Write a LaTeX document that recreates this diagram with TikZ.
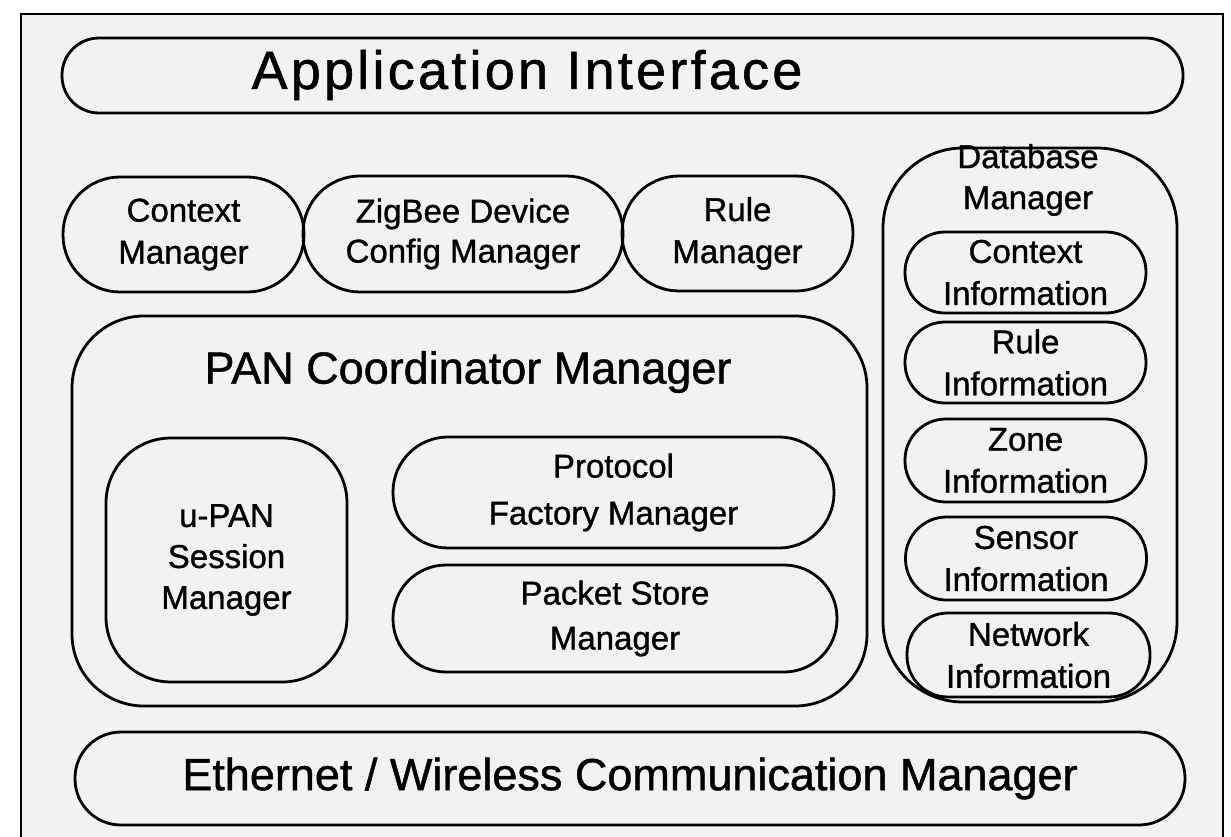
\documentclass[tikz,border=0pt]{standalone}
\usepackage{fontspec}
\setmainfont{Liberation Sans}[FakeBold=1]
\begin{document}
\begin{tikzpicture}[x=1pt,y=-1pt,
  frame/.style={draw=black,line width=2.8pt,fill=black!5},
  box/.style={draw=black,line width=2.8pt,inner sep=0pt,align=center,
    font=\fontsize{33}{42}\selectfont},
  bigtxt/.style={inner sep=0pt,font=\fontsize{45}{54}\selectfont},
  midtxt/.style={inner sep=0pt,align=center,font=\fontsize{33}{42}\selectfont}]
\useasboundingbox (0,0) rectangle (1231,836);
\fill[white] (0,0) rectangle (1231,836);
\draw[frame] (21,14) rectangle (1223,860);
% Application interface
\node[box,rounded corners=37pt,minimum width=1121pt,minimum height=75pt] (app) at (622.5,75.5) {};
\node[bigtxt,font=\fontsize{54}{60}\selectfont\addfontfeatures{LetterSpace=6}] (apptxt) at (527,75) {Application Interface};
% top managers
\node[box,rounded corners=57pt,minimum width=241pt,minimum height=115pt] (cm) at (183.5,234.5) {Context\\Manager};
\node[box,rounded corners=57pt,minimum width=320pt,minimum height=116pt,font=\fontsize{33}{40}\selectfont] (zb) at (463,234) {ZigBee Device\\Config Manager};
\node[box,rounded corners=57pt,minimum width=231pt,minimum height=115pt] (rm) at (737.5,233.5) {Rule\\Manager};
% database manager
\node[box,rounded corners=80pt,minimum width=294pt,minimum height=554pt] (db) at (1030,425) {};
\node[midtxt,font=\fontsize{33}{41}\selectfont] (dbtxt) at (1028,180) {Database\\Manager};
\node[box,rounded corners=40pt,minimum width=241pt,minimum height=81pt] (ci) at (1025.5,272.5) {Context\\Information};
\node[box,rounded corners=40pt,minimum width=241pt,minimum height=81pt] (ri) at (1025.5,362.5) {Rule\\Information};
\node[box,rounded corners=41pt,minimum width=241pt,minimum height=83pt] (zi) at (1025.5,460.5) {Zone\\Information};
\node[box,rounded corners=41pt,minimum width=241pt,minimum height=83pt] (si) at (1026,558.5) {Sensor\\Information};
\node[box,rounded corners=41pt,minimum width=243pt,minimum height=84pt] (ni) at (1028.5,655) {Network\\Information};
% PAN coordinator manager
\node[box,rounded corners=72pt,minimum width=795pt,minimum height=390pt] (pan) at (469.5,511) {};
\node[bigtxt] (pantxt) at (468,372) {PAN Coordinator Manager};
\node[box,rounded corners=65pt,minimum width=241pt,minimum height=244pt,font=\fontsize{33}{41}\selectfont] (up) at (226.5,560) {u-PAN\\Session\\Manager};
\node[box,rounded corners=55pt,minimum width=441pt,minimum height=111pt,font=\fontsize{33}{47}\selectfont] (pf) at (613.5,492.5) {Protocol\\Factory Manager};
\node[box,rounded corners=53pt,minimum width=444pt,minimum height=107pt,font=\fontsize{33}{45}\selectfont] (ps) at (615,618.5) {Packet Store\\Manager};
% communication manager
\node[box,rounded corners=46pt,minimum width=1110pt,minimum height=93pt,font=\fontsize{45}{54}\selectfont] (eth) at (630,778.5) {Ethernet / Wireless Communication Manager};
\end{tikzpicture}
\end{document}
